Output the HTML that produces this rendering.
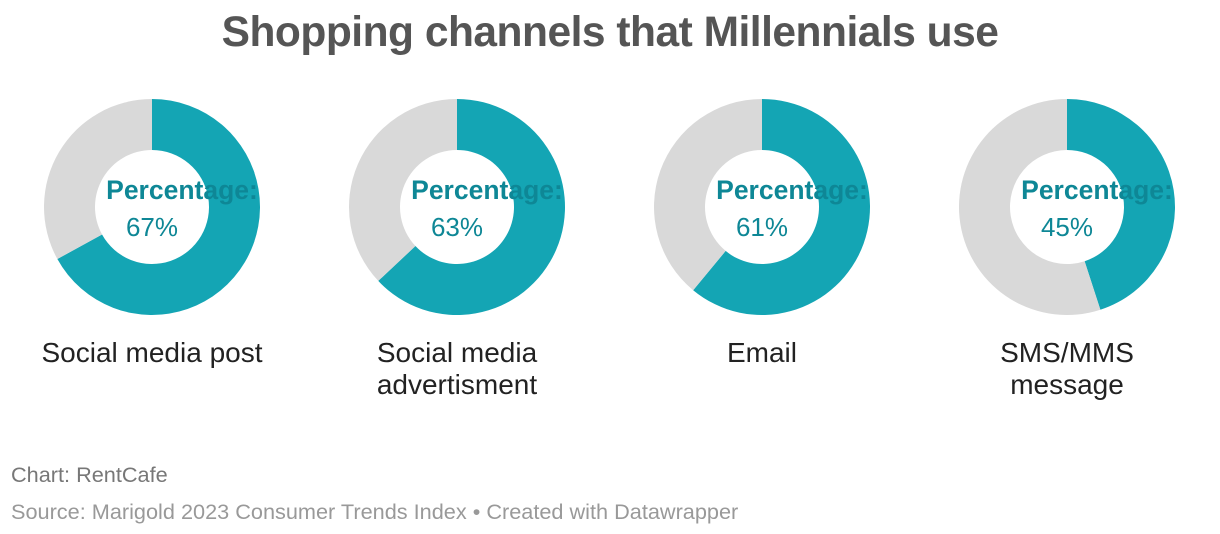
<!DOCTYPE html>
<html><head><meta charset="utf-8"><style>
body{margin:0;background:#fff;width:1220px;height:534px;overflow:hidden;font-family:"Liberation Sans",sans-serif;}
#title{position:absolute;left:0;width:1220px;top:9px;text-align:center;font-size:42.5px;font-weight:bold;color:#555;letter-spacing:-0.5px}
.foot{position:absolute;left:11px;font-size:21.7px;color:#888}
</style></head><body>
<div id="title">Shopping channels that Millennials use</div>
<svg id="chart" width="1220" height="420" style="position:absolute;left:0;top:0"></svg>
<div class="foot" style="top:462px;color:#777">Chart: RentCafe</div>
<div class="foot" style="top:499px;color:#999">Source: Marigold 2023 Consumer Trends Index • Created with Datawrapper</div>
<script>
const categories=["Social media post","Social media|advertisment","Email","SMS/MMS|message"];
const values=[67,63,61,45];
const svg=document.getElementById('chart');
const NS="http://www.w3.org/2000/svg";
const centersX=[152,457,762,1067],cy=207,R=108,r=57;
function pt(rad,f){const a=2*Math.PI*f-Math.PI/2;return [Math.cos(a)*rad,Math.sin(a)*rad];}
function arc(cx,f0,f1){
  const [x0,y0]=pt(R,f0),[x1,y1]=pt(R,f1),[x2,y2]=pt(r,f1),[x3,y3]=pt(r,f0);
  const lg=(f1-f0)>0.5?1:0;
  return `M${cx+x0},${cy+y0}A${R},${R} 0 ${lg} 1 ${cx+x1},${cy+y1}L${cx+x2},${cy+y2}A${r},${r} 0 ${lg} 0 ${cx+x3},${cy+y3}Z`;
}
values.forEach((v,i)=>{
  const cx=centersX[i],f=v/100;
  const g=document.createElementNS(NS,'g');
  
  
  const p1=document.createElementNS(NS,'path');
  p1.setAttribute('d',arc(cx,0,f));p1.setAttribute('fill','#14a5b4');
  
  
  const p2=document.createElementNS(NS,'path');
  p2.setAttribute('d',arc(cx,f,1));p2.setAttribute('fill','#d9d9d9');
  
  
  g.appendChild(p1);g.appendChild(p2);
  const t1=document.createElementNS(NS,'text');
  t1.setAttribute('x',cx+30);t1.setAttribute('y',cy-8);t1.setAttribute('text-anchor','middle');
  t1.setAttribute('font-size','26.5');t1.setAttribute('font-weight','bold');t1.setAttribute('fill','#0e8796');
  t1.textContent='Percentage:';
  
  
  const t2=document.createElementNS(NS,'text');
  t2.setAttribute('x',cx);t2.setAttribute('y',cy+29);t2.setAttribute('text-anchor','middle');
  t2.setAttribute('font-size','26');t2.setAttribute('fill','#0e8796');
  t2.textContent=v+'%';
  
  
  g.appendChild(t1);g.appendChild(t2);
  const lines=categories[i].split('|');
  lines.forEach((ln,j)=>{
    const t=document.createElementNS(NS,'text');
    t.setAttribute('x',cx);t.setAttribute('y',362+j*32);t.setAttribute('text-anchor','middle');
    t.setAttribute('font-size','28');t.setAttribute('fill','#222');
    t.textContent=ln;
    
    
    g.appendChild(t);
  });
  svg.appendChild(g);
});
</script>
</body></html>
